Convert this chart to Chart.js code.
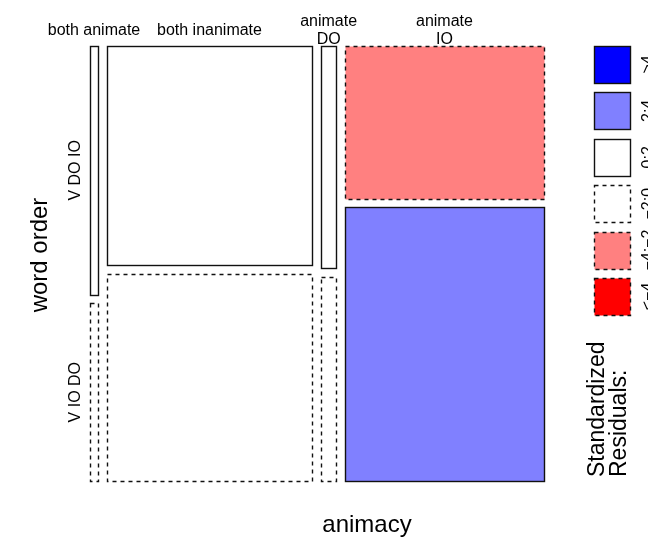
<!DOCTYPE html>
<html>
<head>
<meta charset="utf-8">
<script src="https://cdn.jsdelivr.net/npm/chart.js@4/dist/chart.umd.min.js"></script>
<style>
  html, body { margin: 0; padding: 0; background: #fff; }
</style>
</head>
<body>
<canvas id="mosaic" width="648" height="538"></canvas>
<script>
// animacy (columns) x word order (rows)
const animacy = ["both animate", "both inanimate", "animate DO", "animate IO"];
const animacyLabels = [["both animate"], ["both inanimate"], ["animate", "DO"], ["animate", "IO"]];
const wordOrder = ["V DO IO", "V IO DO"];
const countsDOIO = [7, 159, 12, 107];
const countsIODO = [5, 150, 11, 192];
// standardized residuals
const residDOIO = [0.7, 1.9, 0.6, -2.3];
const residIODO = [-0.7, -1.7, -0.5, 2.2];
const shadeBreaks = [">4", "2:4", "0:2", "\u22122:0", "\u22124:\u22122", "<\u22124"];

const FONT = '"Liberation Sans", Arial, Helvetica, sans-serif';
const GAP_X = 0.019;
const GAP_Y = 0.02;

function shade(r) {
  if (r > 4) return { fill: "#0000FF", dash: false };
  if (r > 2) return { fill: "#8080FF", dash: false };
  if (r >= 0) return { fill: "#FFFFFF", dash: false };
  if (r >= -2) return { fill: "#FFFFFF", dash: true };
  if (r >= -4) return { fill: "#FF8080", dash: true };
  return { fill: "#FF0000", dash: true };
}

function box(ctx, x0, y0, x1, y1, s) {
  const l = Math.round(x0) + 0.5, t = Math.round(y0) + 0.5;
  const w = Math.round(x1) - Math.round(x0), h = Math.round(y1) - Math.round(y0);
  ctx.fillStyle = s.fill;
  ctx.fillRect(l, t, w, h);
  ctx.setLineDash(s.dash ? [4, 4] : []);
  ctx.lineWidth = 1.4;
  ctx.strokeStyle = "#111";
  ctx.strokeRect(l, t, w, h);
  ctx.setLineDash([]);
}

function vtext(ctx, str, x, y, align) {
  ctx.save();
  ctx.translate(x, y);
  ctx.rotate(-Math.PI / 2);
  ctx.textAlign = align || "center";
  ctx.fillText(str, 0, 0);
  ctx.restore();
}

const mosaicPlugin = {
  id: "mosaic",
  afterDatasetsDraw(chart) {
    const { ctx } = chart;
    const xs = chart.scales.x, ys = chart.scales.y;
    const colTotals = countsDOIO.map((c, i) => c + countsIODO[i]);
    const N = colTotals.reduce((a, b) => a + b, 0);
    const availX = 1 - GAP_X * (animacy.length - 1);
    const availY = 1 - GAP_Y;

    ctx.save();
    ctx.fillStyle = "#000";
    let cx = 0;
    animacy.forEach((name, j) => {
      const w = colTotals[j] / N * availX;
      const hTop = countsDOIO[j] / colTotals[j] * availY;
      const px0 = xs.getPixelForValue(cx), px1 = xs.getPixelForValue(cx + w);
      box(ctx, px0, ys.getPixelForValue(0), px1, ys.getPixelForValue(hTop), shade(residDOIO[j]));
      box(ctx, px0, ys.getPixelForValue(hTop + GAP_Y), px1, ys.getPixelForValue(1), shade(residIODO[j]));

      // column labels
      const mid = (px0 + px1) / 2;
      ctx.fillStyle = "#000";
      ctx.font = "16px " + FONT;
      ctx.textAlign = "center";
      const lines = animacyLabels[j];
      if (lines.length === 1) {
        ctx.fillText(lines[0], mid, 35);
      } else {
        ctx.fillText(lines[0], mid, 26);
        ctx.fillText(lines[1], mid, 44);
      }

      // row labels, centred on the first column's tiles
      if (j === 0) {
        vtext(ctx, wordOrder[0], 80, (ys.getPixelForValue(0) + ys.getPixelForValue(hTop)) / 2);
        vtext(ctx, wordOrder[1], 80, (ys.getPixelForValue(hTop + GAP_Y) + ys.getPixelForValue(1)) / 2);
      }
      cx += w + GAP_X;
    });

    // axis titles
    ctx.font = "24px " + FONT;
    ctx.textAlign = "center";
    ctx.fillText("animacy", 367, 532);
    vtext(ctx, "word order", 47, 255);

    // shading legend
    const legendR = [5, 3, 1, -1, -3, -5];
    legendR.forEach((r, i) => {
      const top = 46 + i * 46.4;
      box(ctx, 594, top, 630, top + 37, shade(r));
      ctx.fillStyle = "#000";
      ctx.font = "16px " + FONT;
      vtext(ctx, shadeBreaks[i], 653, top + 18.5);
    });
    ctx.font = "23px " + FONT;
    vtext(ctx, "Standardized", 604, 477, "left");
    vtext(ctx, "Residuals:", 626, 477, "left");
    ctx.restore();
  }
};

new Chart(document.getElementById("mosaic"), {
  type: "scatter",
  data: { datasets: [{ data: [], pointRadius: 0 }] },
  options: {
    responsive: false,
    animation: false,
    layout: { padding: { left: 90, right: 104, top: 46, bottom: 57 } },
    plugins: { legend: { display: false }, tooltip: { enabled: false } },
    scales: {
      x: { type: "linear", min: 0, max: 1, display: false },
      y: { type: "linear", min: 0, max: 1, reverse: true, display: false },
    },
  },
  plugins: [mosaicPlugin],
});
</script>
</body>
</html>
